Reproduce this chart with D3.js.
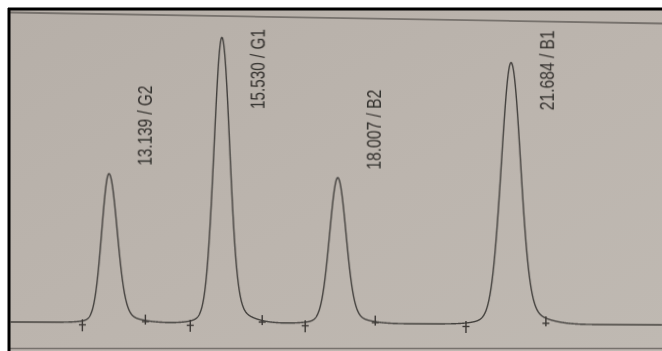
<!DOCTYPE html>
<html>
<head>
<meta charset="utf-8">
<script src="https://cdn.jsdelivr.net/npm/d3@7"></script>
<style>
  html, body { margin: 0; padding: 0; background: #ffffff; }
  svg { display: block; }
</style>
</head>
<body>
<div id="chart"></div>
<script>
// Peak table of the chromatogram (retention time in minutes, response in arbitrary units)
const peakNames      = ["G2", "G1", "B2", "B1"];
const retentionTimes = [13.139, 15.530, 18.007, 21.684];
const peakHeights    = [149, 286, 146, 262];
// Leading / trailing peak widths (standard deviation, minutes)
const sigmaLeft      = [0.145, 0.155, 0.165, 0.195];
const sigmaRight     = [0.180, 0.175, 0.180, 0.210];
// Integration start / end marks (minutes)
const peakStart      = [12.59, 14.885, 17.33, 20.75];
const peakEnd        = [13.93, 16.415, 18.82, 22.45];
// Visible time window and response range
const timeWindow     = [11.05, 24.92];
const responseRange  = [0, 300];

const W = 662, H = 351;
const svg = d3.select("#chart").append("svg")
  .attr("width", W).attr("height", H);

const defs = svg.append("defs");
const grad = defs.append("linearGradient").attr("id", "paper")
  .attr("x1", 0).attr("y1", 0).attr("x2", 1).attr("y2", 1);
grad.append("stop").attr("offset", "0%").attr("stop-color", "#b6afa8");
grad.append("stop").attr("offset", "55%").attr("stop-color", "#bcb5ae");
grad.append("stop").attr("offset", "100%").attr("stop-color", "#bfb9b2");
const soft = defs.append("filter").attr("id", "soft")
  .attr("filterUnits", "userSpaceOnUse")
  .attr("x", -20).attr("y", -20).attr("width", W + 40).attr("height", H + 40);
soft.append("feGaussianBlur").attr("stdDeviation", 0.45);

// paper
svg.append("rect").attr("x", 9).attr("y", 9).attr("width", W - 9).attr("height", H - 9)
  .attr("fill", "url(#paper)");

// ruled lines printed on the paper
svg.append("line").attr("x1", 10).attr("y1", 12.5).attr("x2", W).attr("y2", 23.5)
  .attr("stroke", "#77726d").attr("stroke-width", 1.8).attr("filter", "url(#soft)");
svg.append("line").attr("x1", 10).attr("y1", 348.5).attr("x2", W).attr("y2", 348.5)
  .attr("stroke", "#77726d").attr("stroke-width", 1.6).attr("filter", "url(#soft)");

// frame
svg.append("line").attr("x1", 8).attr("y1", 9).attr("x2", W).attr("y2", 9)
  .attr("stroke", "#000").attr("stroke-width", 3);
svg.append("line").attr("x1", 9).attr("y1", 8).attr("x2", 9).attr("y2", H)
  .attr("stroke", "#000").attr("stroke-width", 3);

const x = d3.scaleLinear().domain(timeWindow).range([10, W]);
const y = d3.scaleLinear().domain(responseRange).range([322, 22]);

// plot group, slightly tilted like the printed trace
const plot = svg.append("g")
  .attr("transform", "rotate(0.25, 10, 322)")
  .attr("filter", "url(#soft)");

// detector signal: each peak is a skewed Gaussian core with a broad, low foot
function signal(t) {
  let s = 0;
  for (let i = 0; i < retentionTimes.length; i++) {
    const d = t - retentionTimes[i];
    const sg = d < 0 ? sigmaLeft[i] : sigmaRight[i];
    const core = Math.exp(-0.5 * (d / sg) * (d / sg));
    const fd = (d - 0.6 * sigmaRight[i]) / (2.4 * sg);
    const foot = Math.exp(-0.5 * fd * fd);
    s += peakHeights[i] * (0.95 * core + 0.05 * foot);
  }
  return s;
}
const times = d3.range(timeWindow[0], timeWindow[1] + 0.001, 0.004);
const line = d3.line().x(t => x(t)).y(t => y(signal(t))).curve(d3.curveLinear);

plot.append("path").datum(times)
  .attr("d", line)
  .attr("fill", "none")
  .attr("stroke", "#43403d")
  .attr("stroke-width", 1.4)
  .attr("stroke-linejoin", "round");

// integration marks
const markColor = "#3c3936";
const starts = plot.append("g").selectAll("g").data(peakStart).join("g")
  .attr("transform", t => `translate(${x(t)},${y(0)})`);
starts.append("line").attr("x1", 0).attr("x2", 0).attr("y1", -3).attr("y2", 9)
  .attr("stroke", markColor).attr("stroke-width", 1.4);
starts.append("line").attr("x1", -3.5).attr("x2", 3.5).attr("y1", 2.5).attr("y2", 2.5)
  .attr("stroke", markColor).attr("stroke-width", 1.4);

const ends = plot.append("g").selectAll("g").data(peakEnd).join("g")
  .attr("transform", t => `translate(${x(t)},${y(0)})`);
ends.append("line").attr("x1", 0).attr("x2", 0).attr("y1", -8).attr("y2", 2)
  .attr("stroke", markColor).attr("stroke-width", 1.4);
ends.append("line").attr("x1", -3.5).attr("x2", 3.5).attr("y1", -1).attr("y2", -1)
  .attr("stroke", markColor).attr("stroke-width", 1.4);

// peak labels: "retention time / name", written upward beside each apex
const labelTop = 28, labelLen = 80;
plot.append("g").selectAll("text").data(peakNames).join("text")
  .attr("transform", (n, i) => {
    const lx = x(retentionTimes[i]) + 43;
    const ly = Math.max(y(peakHeights[i]) - 8, labelTop + labelLen);
    return `translate(${lx},${ly}) rotate(-90)`;
  })
  .attr("font-family", "'Liberation Sans Narrow', 'Arial Narrow', 'Liberation Sans', sans-serif")
  .attr("font-size", 21)
  .attr("fill", "#33302d")
  .attr("textLength", labelLen)
  .attr("lengthAdjust", "spacingAndGlyphs")
  .text((n, i) => `${retentionTimes[i].toFixed(3)} / ${n}`);
</script>
</body>
</html>
